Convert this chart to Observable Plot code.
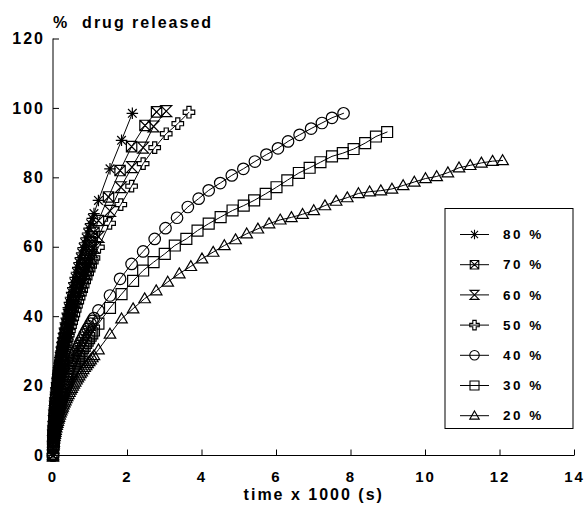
<!DOCTYPE html>
<html>
<head>
<meta charset="utf-8">
<script src="https://cdn.jsdelivr.net/npm/d3@7"></script>
<script src="https://cdn.jsdelivr.net/npm/@observablehq/plot@0.6"></script>
<style>
  html, body { margin: 0; padding: 0; background: white; }
  #chart svg { display: block; }
</style>
</head>
<body>
<div id="chart"></div>
<script>
// ---- data ----
const seriesLabels = ["80 %", "70 %", "60 %", "50 %", "40 %", "30 %", "20 %"];

// dense early sampling shared by all series (time x 1000 s)
const tEarly = [0, 0.005, 0.01, 0.015, 0.02, 0.03, 0.04, 0.05, 0.06, 0.07, 0.085, 0.1, 0.115, 0.13, 0.145, 0.16,
  0.18, 0.2, 0.22, 0.24, 0.26, 0.28, 0.305, 0.33, 0.355, 0.38, 0.41, 0.44, 0.47, 0.5, 0.53,
  0.56, 0.595, 0.63, 0.665, 0.7, 0.735, 0.77, 0.81, 0.85, 0.89, 0.93, 0.97, 1.01, 1.055, 1.1];

const t80 = [1.22, 1.53, 1.84, 2.13];
const v80 = [0, 4.7, 6.7, 8.1, 9.4, 11.5, 13.3, 14.9, 16.3, 17.6, 19.4, 21.0, 22.6, 24.0, 25.3, 26.6,
  28.2, 29.7, 31.2, 32.6, 33.9, 35.2, 36.7, 38.2, 39.6, 41.0, 42.6, 44.1, 45.6, 47.0, 48.4,
  49.8, 51.3, 52.8, 54.2, 55.6, 57.0, 58.4, 59.9, 61.3, 62.7, 64.1, 65.5, 66.8, 68.3, 69.7,
  73.5, 82.6, 90.8, 98.6];

const t70 = [1.22, 1.49, 1.8, 2.11, 2.47, 2.78];
const v70 = [0, 4.3, 6.1, 7.5, 8.7, 10.6, 12.3, 13.7, 15.0, 16.2, 17.9, 19.4, 20.8, 22.1, 23.3, 24.5,
  26.0, 27.4, 28.7, 30.0, 31.3, 32.4, 33.9, 35.2, 36.5, 37.8, 39.3, 40.7, 42.0, 43.3, 44.6,
  45.9, 47.3, 48.7, 50.0, 51.3, 52.6, 53.8, 55.2, 56.5, 57.8, 59.1, 60.4, 61.6, 63.0, 64.3,
  67.7, 74.5, 82.1, 89.0, 95.1, 99.0];

const t60 = [1.22, 1.53, 1.82, 2.12, 2.42, 2.7, 3.04];
const v60 = [0, 4.0, 5.7, 7.0, 8.1, 9.9, 11.4, 12.7, 14.0, 15.1, 16.6, 18.0, 19.3, 20.6, 21.7, 22.8,
  24.2, 25.5, 26.7, 27.9, 29.1, 30.2, 31.5, 32.7, 34.0, 35.1, 36.5, 37.8, 39.1, 40.3, 41.5,
  42.7, 44.0, 45.2, 46.5, 47.7, 48.9, 50.0, 51.3, 52.6, 53.8, 55.0, 56.1, 57.3, 58.5, 59.8,
  63.0, 70.5, 77.3, 83.1, 88.7, 94.8, 99.2];

const t50 = [1.22, 1.52, 1.82, 2.11, 2.42, 2.73, 3.04, 3.35, 3.65];
const v50 = [0, 3.8, 5.4, 6.7, 7.7, 9.4, 10.9, 12.1, 13.3, 14.4, 15.8, 17.2, 18.4, 19.6, 20.7, 21.7,
  23.0, 24.3, 25.5, 26.6, 27.7, 28.7, 30.0, 31.2, 32.4, 33.5, 34.8, 36.0, 37.2, 38.4, 39.5,
  40.6, 41.9, 43.1, 44.3, 45.4, 46.6, 47.6, 48.9, 50.1, 51.2, 52.4, 53.5, 54.6, 55.8, 56.9,
  60.0, 66.9, 72.3, 77.6, 84.1, 88.7, 92.7, 95.6, 98.9];

const t40 = [1.22, 1.53, 1.8, 2.11, 2.42, 2.73, 3.02, 3.33, 3.62, 3.91, 4.18, 4.49, 4.8, 5.11, 5.42, 5.73, 6.04, 6.31, 6.62, 6.93, 7.22, 7.49, 7.8];
const v40 = [0, 2.7, 3.8, 4.6, 5.3, 6.5, 7.6, 8.5, 9.3, 10.0, 11.0, 12.0, 12.8, 13.6, 14.4, 15.1,
  16.0, 16.9, 17.7, 18.5, 19.3, 20.0, 20.9, 21.7, 22.5, 23.3, 24.2, 25.1, 25.9, 26.7, 27.5,
  28.3, 29.2, 30.0, 30.8, 31.6, 32.4, 33.2, 34.0, 34.9, 35.7, 36.5, 37.2, 38.0, 38.8, 39.6,
  41.8, 46.1, 50.9, 55.2, 58.8, 62.4, 65.5, 68.5, 71.6, 74.0, 76.4, 78.5, 80.7, 82.6, 84.7, 86.7, 88.5, 90.5, 92.4, 94.2, 95.8, 97.3, 98.6];

const t30 = [1.22, 1.53, 1.84, 2.15, 2.42, 2.7, 3.0, 3.27, 3.58, 3.88, 4.18, 4.5, 4.82, 5.12, 5.4, 5.71, 6.0, 6.29, 6.6, 6.89, 7.18, 7.49, 7.78, 8.07, 8.38, 8.67, 8.97];
const v30 = [0, 2.4, 3.4, 4.2, 4.9, 5.9, 6.9, 7.7, 8.4, 9.1, 10.0, 10.8, 11.6, 12.4, 13.1, 13.7,
  14.6, 15.3, 16.1, 16.8, 17.5, 18.2, 18.9, 19.7, 20.4, 21.1, 22.0, 22.8, 23.5, 24.3, 25.0,
  25.7, 26.5, 27.2, 28.0, 28.7, 29.4, 30.1, 30.9, 31.6, 32.4, 33.1, 33.8, 34.5, 35.2, 36.0,
  38.0, 42.5, 46.5, 50.3, 53.3, 55.7, 58.1, 60.5, 62.4, 64.8, 66.8, 68.7, 70.6, 72.0, 73.5, 75.4, 77.3, 79.3, 81.4, 82.9, 84.5, 86.2, 87.1, 88.3, 90.0, 91.9, 93.2];

const t20 = [1.22, 1.53, 1.84, 2.15, 2.46, 2.77, 3.08, 3.39, 3.7, 4.0, 4.3, 4.6, 4.9, 5.2, 5.5, 5.8, 6.1, 6.4, 6.7, 7.0, 7.3, 7.6, 7.9, 8.2, 8.5, 8.8, 9.1, 9.4, 9.7, 10.0, 10.3, 10.6, 10.9, 11.2, 11.5, 11.8, 12.07];
const v20 = [0, 1.9, 2.8, 3.4, 3.9, 4.8, 5.5, 6.1, 6.7, 7.3, 8.0, 8.7, 9.3, 9.9, 10.5, 11.0,
  11.7, 12.3, 12.9, 13.5, 14.0, 14.6, 15.2, 15.8, 16.4, 17.0, 17.6, 18.2, 18.9, 19.4, 20.0,
  20.6, 21.2, 21.8, 22.4, 23.0, 23.6, 24.1, 24.8, 25.4, 25.9, 26.5, 27.1, 27.6, 28.2, 28.8,
  30.5, 35.0, 39.4, 42.3, 45.2, 47.5, 50.0, 52.4, 54.5, 56.7, 58.6, 60.5, 62.2, 63.9, 65.3, 66.8, 67.9, 68.6, 69.5, 70.6, 72.0, 73.3, 74.3, 75.5, 76.0, 76.3, 76.8, 77.8, 78.8, 79.8, 80.4, 81.5, 82.9, 83.6, 84.3, 84.8, 85.0];

const xTicks = [0, 2, 4, 6, 8, 10, 12, 14];
const yTicks = [0, 20, 40, 60, 80, 100, 120];
const xLabel = "time x 1000 (s)";
const yLabel = "%  drug released";

// ---- custom marker shapes ----
const shape = (f) => ({ draw(ctx, size) { f(ctx, Math.sqrt(size) / 2); } });
const symStar = shape((c, h) => {
  c.moveTo(0, -h); c.lineTo(0, h);
  c.moveTo(-h, 0); c.lineTo(h, 0);
  const d = h * 0.75;
  c.moveTo(-d, -d); c.lineTo(d, d);
  c.moveTo(-d, d); c.lineTo(d, -d);
});
const symBoxX = shape((c, h) => {
  const s = h * 0.9;
  c.moveTo(-s, -s); c.lineTo(s, -s); c.lineTo(s, s); c.lineTo(-s, s); c.closePath();
  c.moveTo(-s, -s); c.lineTo(s, s);
  c.moveTo(-s, s); c.lineTo(s, -s);
});
const symHourglass = shape((c, h) => {
  const s = h * 0.95;
  c.moveTo(-s, -s); c.lineTo(s, -s); c.lineTo(-s, s); c.lineTo(s, s); c.closePath();
});
const symPlus = shape((c, h) => {
  const a = h * 0.36;
  c.moveTo(-a, -h); c.lineTo(a, -h); c.lineTo(a, -a); c.lineTo(h, -a); c.lineTo(h, a);
  c.lineTo(a, a); c.lineTo(a, h); c.lineTo(-a, h); c.lineTo(-a, a); c.lineTo(-h, a);
  c.lineTo(-h, -a); c.lineTo(-a, -a); c.closePath();
});
const symCircle = shape((c, h) => { c.moveTo(h, 0); c.arc(0, 0, h, 0, 2 * Math.PI); });
const symSquare = shape((c, h) => {
  const s = h * 0.95;
  c.moveTo(-s, -s); c.lineTo(s, -s); c.lineTo(s, s); c.lineTo(-s, s); c.closePath();
});
const symTriangle = shape((c, h) => {
  c.moveTo(0, -h); c.lineTo(h, h * 0.72); c.lineTo(-h, h * 0.72); c.closePath();
});
const tickUp = { draw(c) { c.moveTo(0, 0); c.lineTo(0, -6); } };
const tickRight = { draw(c) { c.moveTo(0, 0); c.lineTo(6, 0); } };

const symbols = [symStar, symBoxX, symHourglass, symPlus, symCircle, symSquare, symTriangle];
const times = [t80, t70, t60, t50, t40, t30, t20];
const values = [v80, v70, v60, v50, v40, v30, v20];

const rowsFor = (i) => {
  const ts = tEarly.concat(times[i]);
  if (ts.length !== values[i].length) console.error("length mismatch", seriesLabels[i], ts.length, values[i].length);
  return ts.map((t, j) => ({ s: seriesLabels[i], t, v: values[i][j] }));
};

const font = { fontFamily: "'Liberation Sans', Arial, sans-serif", fontWeight: "bold" };

const marks = [
  Plot.ruleY([0], { stroke: "black", strokeWidth: 1 }),
  Plot.ruleX([0], { stroke: "black", strokeWidth: 1 }),
  Plot.dot(xTicks, { x: d => d, y: 0, symbol: tickUp, r: 3, fill: "none", stroke: "black", strokeWidth: 1 }),
  Plot.dot(yTicks, { x: 0, y: d => d, symbol: tickRight, r: 3, fill: "none", stroke: "black", strokeWidth: 1 }),
  Plot.text(xTicks, { x: d => d, y: 0, text: d => String(d), dy: 22, fontSize: 15, ...font, fill: "black", ariaLabel: "x-tick-labels" }),
  Plot.text(yTicks, { x: 0, y: d => d, text: d => String(d), dx: -8, textAnchor: "end", fontSize: 16, ...font, fill: "black" }),
  Plot.text([xLabel], { frameAnchor: "bottom", dy: 44, text: d => d, fontSize: 16, ...font, fill: "black" }),
  Plot.text([yLabel], { frameAnchor: "top-left", textAnchor: "start", lineAnchor: "bottom", dy: -11.5, text: d => d, fontSize: 16, ...font, fill: "black" })
];

for (let i = seriesLabels.length - 1; i >= 0; i--) {
  const rows = rowsFor(i);
  marks.push(Plot.line(rows, { x: "t", y: "v", stroke: "black", strokeWidth: 1 }));
  marks.push(Plot.dot(rows, { x: "t", y: "v", symbol: symbols[i], r: 6.5, fill: "none", stroke: "black", strokeWidth: 1.2 }));
}

const svg = Plot.plot({
  width: 584,
  height: 510,
  marginLeft: 52.5,
  marginRight: 10,
  marginTop: 38.5,
  marginBottom: 55,
  x: { domain: [0, 14], axis: null },
  y: { domain: [0, 120], axis: null },
  style: { background: "white", letterSpacing: "2px", overflow: "visible" },
  marks
});

// tighter spacing for the x tick numbers so the last one stays inside the picture
d3.select(svg).selectAll('g[aria-label="x-tick-labels"]').attr("letter-spacing", "0.5px");

// ---- legend box ----
const g = d3.select(svg).append("g").attr("class", "legend").attr("text-anchor", "start");
const lx = 445, ly = 208.5, lw = 128, lh = 220;
g.append("rect").attr("x", lx).attr("y", ly).attr("width", lw).attr("height", lh)
  .attr("fill", "white").attr("stroke", "black").attr("stroke-width", 1);
seriesLabels.forEach((lab, i) => {
  const cy = 234.5 + i * 30.2;
  g.append("line").attr("x1", 460).attr("x2", 489).attr("y1", cy).attr("y2", cy)
    .attr("stroke", "black").attr("stroke-width", 1);
  g.append("path").attr("transform", `translate(474.5,${cy})`)
    .attr("d", d3.symbol(symbols[i], 90)())
    .attr("fill", "none").attr("stroke", "black").attr("stroke-width", 1.1);
  g.append("text").attr("x", 503).attr("y", cy).attr("dy", "0.35em")
    .attr("text-anchor", "start")
    .attr("font-family", "'Liberation Sans', Arial, sans-serif").attr("font-weight", "bold")
    .attr("font-size", 13.5).attr("letter-spacing", "2.5px").attr("fill", "black")
    .text(lab);
});

document.getElementById("chart").appendChild(svg);
</script>
</body>
</html>
